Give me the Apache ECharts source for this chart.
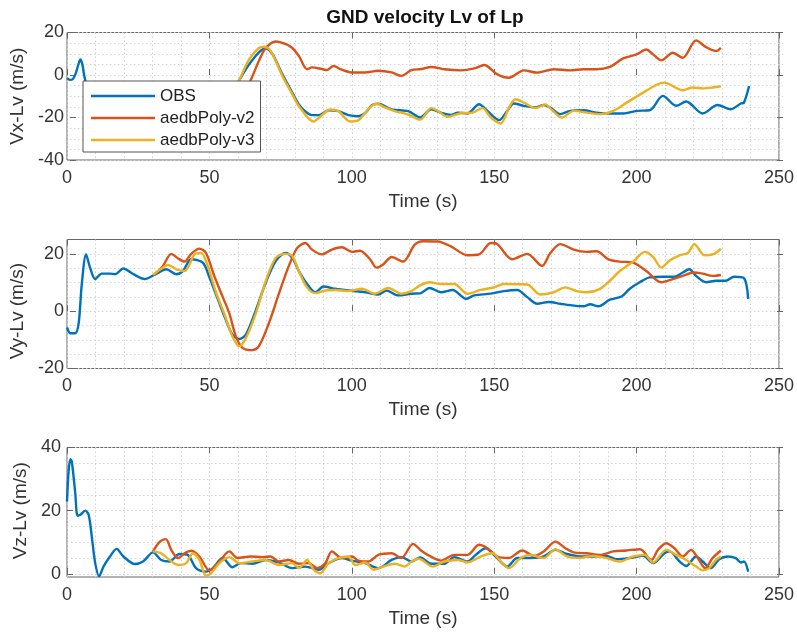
<!DOCTYPE html>
<html><head><meta charset="utf-8">
<script src="https://cdn.jsdelivr.net/npm/echarts@6/dist/echarts.min.js"></script>
<style>html,body{margin:0;padding:0;background:#fff}#c{width:797px;height:632px}</style>
</head><body><div id="c"></div>
<script>
// ---- data: [time (s), value (m/s)] ----
const seriesNames = ['OBS', 'aedbPoly-v2', 'aedbPoly-v3'];
const timeRange = [0, 250];
const timeTickStep = 50;

const vxObs = [[0,-1.5],[1,-2.3],[2,-2],[3,0.5],[4,5],[4.7,7.3],[5.4,5],[6,0],[6.5,-3],[7,-6],[8,-14],[10,-22],[15,-26],[20,-28],[25,-27],[30,-30],[35,-29],[40,-31],[45,-28],[50,-25],[55,-17],[58,-9],[60.5,-2.4],[64,5.1],[67.4,10.7],[69.8,12.5],[72.1,9.9],[75.6,0.4],[79.1,-8.3],[81.4,-13.8],[84,-17.5],[86,-18.9],[88.4,-18.9],[91.9,-16.6],[95.3,-17],[98.8,-18.9],[102.3,-19.4],[105,-17.5],[107,-14.2],[109.3,-13.5],[114,-16.2],[119.8,-17],[124,-20],[127.9,-16.1],[131.3,-17.7],[134.8,-18.75],[137.2,-17.7],[140.6,-18.1],[144.7,-13.75],[147.6,-16.9],[151.7,-21.25],[154.6,-16.9],[156.9,-13.4],[160.4,-14.5],[164.5,-15.3],[167.4,-14.1],[169.7,-15.3],[173.2,-18.4],[176.7,-16.9],[181.3,-16.6],[186,-17.7],[190.6,-18.1],[195.3,-18.1],[200,-16.9],[204.6,-16.6],[209.2,-9.8],[213.9,-14.5],[217.4,-12.5],[223.2,-18.1],[228.4,-14.1],[233.1,-16.1],[236.6,-13.4],[237.7,-13],[239.5,-5.2]];
const vxV2 = [[30,-20],[38,-25],[46,-27],[54,-24],[60,-14],[64.5,-2.4],[67.4,6.7],[69.8,12.7],[73.3,15.8],[76.7,14.6],[79.1,12.7],[81.4,9],[84.3,2.7],[86,3.6],[89.5,2.8],[91.3,2.3],[93.6,4.3],[95.9,2.8],[100,1.2],[104.6,1.2],[109.3,2],[114,1.2],[117.4,-0.4],[120.9,2.3],[124.4,2.8],[127.9,3.8],[132.5,2.7],[138.3,2.2],[143,3.1],[146.5,4.7],[151.1,0.3],[155.2,-1.3],[160.4,2.2],[165.1,1.1],[170.9,2.7],[176.7,2.2],[181.3,2.7],[186,2.7],[190.6,3.8],[195.3,7.8],[200,9.7],[203.4,12],[205.8,9.7],[208.7,6.9],[212.7,10.5],[216.2,8.1],[220.9,16.3],[224.4,13.1],[227.9,11.3],[229.6,12.8]];
const vxV3 = [[30,-20],[38,-26],[46,-29],[54,-22],[58,-10],[60.5,-2.4],[64,7.5],[67.4,12.7],[69.2,13.3],[71.5,11.4],[75.6,-0.4],[79.1,-9],[81.4,-14.6],[86.6,-21.9],[89.5,-18.9],[92.4,-16.2],[95.3,-17],[99.4,-21.9],[102.3,-21.3],[106.4,-15.2],[108.7,-13.5],[111.6,-15.2],[115.1,-17],[119.8,-18.6],[124,-21],[127.9,-15.6],[130.2,-16.9],[133.7,-19.7],[138.3,-18],[142.4,-17.7],[145.9,-15.6],[148.8,-20],[152.3,-22.8],[155.2,-15.3],[157.5,-11.4],[160.4,-13],[164.5,-15.6],[168,-13.8],[170.3,-16.5],[173.8,-20],[177.9,-16.9],[182.5,-17.7],[187.2,-18.4],[191.8,-16.9],[196.5,-13],[202.3,-8.3],[206.9,-4.7],[209.8,-3.6],[212.7,-5.2],[216.2,-7.2],[219.7,-5.9],[223.2,-6.3],[226.7,-5.9],[229.6,-5.3]];

const vyObs = [[0,-5.7],[1.2,-7.7],[2.9,-7.7],[4.1,-4.2],[5.2,9.5],[6.7,19.8],[8.1,15.2],[9.9,11.2],[12.2,13.1],[15.1,13.1],[16.9,12.9],[19.8,14.9],[23.3,12.9],[27.3,11.2],[30.8,12.7],[34.9,14.6],[38.4,12.9],[40.7,14],[43.6,18.1],[47.7,16.9],[50,11.8],[52.9,4.3],[55.8,-3.1],[58.1,-8.2],[60.5,-9.7],[62.8,-8.2],[66.3,0.3],[69.8,10],[73.3,17.5],[76.7,20.3],[79.1,18.6],[81.4,14],[84.3,9.5],[87.2,6.6],[90.1,8.6],[94.2,7.8],[98.8,7.2],[104.7,6.6],[109.3,5.8],[112.2,7.2],[116.3,5.5],[120.9,6.1],[124,6.2],[127.3,8.1],[131.3,6.6],[135.4,7.4],[140.1,4.3],[143,5.5],[148.8,6.1],[153.4,7],[158.1,7.4],[161.6,4.9],[165.1,2.6],[169.1,3.2],[173.2,2.6],[176.7,2.1],[181.3,1.7],[183.7,2.4],[186.6,1.7],[190.6,4],[194.7,5.1],[197.6,7.8],[201.1,10.1],[204.6,11.8],[209.2,12],[213.3,12],[216.2,13.5],[218.5,14.6],[220.9,12.3],[224.4,10.1],[227.9,10.6],[231.3,10.6],[234.2,12],[237.7,11.5],[239.2,4.3]];
const vyV2 = [[30.8,12.7],[33.7,15.8],[36.6,20],[39,18.4],[41.3,17.3],[43.6,20],[46.5,21.8],[48.8,20.3],[51.7,12.3],[54.7,4.9],[57,-0.8],[59.3,-8.8],[61.6,-12.8],[65.1,-13.6],[67.4,-12.2],[70.9,-4.2],[74.4,6.1],[77.9,15.8],[80.8,22],[83.7,23.8],[86,21.5],[89.5,19.8],[93,21.5],[96.5,22.3],[100,20.7],[102.9,21.1],[106.4,18.1],[108.7,15.2],[111,16.3],[114,18.9],[118,17.3],[122.1,23.2],[125,24.4],[130.2,24.3],[134.8,22.6],[140.6,19.5],[144.7,19.8],[148.8,23.8],[151.1,23.4],[156.3,18.1],[161.6,20],[166.8,15.8],[169.7,20.3],[173.2,23.4],[177.9,21.5],[182.5,20.7],[186,20.9],[190.1,18.1],[194.1,17.3],[198.8,16.9],[203.4,14],[208.7,10.1],[212.7,11.2],[216.2,12.3],[220.1,13.5],[223.2,13.1],[226.7,12.3],[229.6,12.6]];
const vyV3 = [[30.2,12.7],[33.7,15.2],[35.5,16.1],[38.4,14.6],[41.3,14],[44.8,19.8],[47.1,20.3],[49.4,15.8],[52.3,6.6],[55.2,-0.8],[58.1,-8.8],[60.5,-12.2],[62.8,-9.4],[66.3,-0.8],[69.8,10.6],[73.3,18.6],[76.7,20],[79.1,19.2],[81.4,14],[84.3,8.3],[87.2,6.3],[90.7,7.2],[94.2,7.4],[98.8,7],[103.5,7.8],[108.1,6.1],[112.8,8.1],[117.4,6.1],[120.9,7],[124,9],[127.3,10.1],[131.3,9.5],[136,9.5],[140.6,6.1],[145.3,7.4],[149.9,8.3],[153.4,9.5],[161.6,9.3],[166.2,5.8],[170.9,6.6],[174.9,8.3],[179,7],[182.5,6.6],[187.2,7.8],[190.6,10.6],[194.1,14],[198.8,17.3],[202.9,20.7],[205.8,18.9],[208.7,15.2],[211.6,17.7],[215.1,19.5],[218,20.3],[220.3,23.4],[223.8,19.5],[227.3,20],[229.6,21.8]];

const vzObs = [[0,22.9],[0.6,32.9],[1.2,36.3],[1.7,35.5],[2.9,25.5],[3.7,18.4],[4.7,18.7],[6.4,20],[7.6,18.7],[8.7,11.8],[9.9,3.4],[11.3,-0.8],[12.8,2.3],[15.1,5.5],[17.4,7.9],[19.8,5.5],[23.8,3.1],[26.7,3.9],[30.2,6.8],[33.1,4.4],[36,3.9],[39.5,6.3],[42.4,6],[45.3,1.8],[48.8,0.7],[51.2,1.8],[54.7,5],[58.1,2.1],[61,3.4],[65.1,3.2],[69.8,4.4],[74.4,3.6],[79.1,1.8],[83.7,2.3],[88.4,1.3],[91.9,3.4],[96.5,5],[100,4.2],[104.7,3.4],[109.3,1.8],[114,4.4],[117.4,5.3],[120.9,3.9],[124,5.2],[127.9,3.2],[132.5,3.2],[136,5.3],[140.6,3.9],[143.5,6],[147,8.1],[150.5,5.5],[154.6,2.3],[158.1,5],[162.7,5],[167.4,5.5],[171.5,7.6],[175.5,6.3],[180.2,5.5],[184.8,5.5],[189.5,5.7],[193,4.6],[197.6,5],[202.3,5.7],[205.8,3.4],[209.8,6.5],[211.6,7.1],[215.1,3.9],[217.4,2.5],[220.9,5.5],[223.2,3.9],[226.1,1.8],[229,4.6],[232,5.5],[234.8,5],[236.6,3.6],[237.7,3.9],[239.2,0.7]];
const vzV2 = [[30.2,7.1],[32.6,10.2],[34.7,11],[36.6,7.6],[39,5],[41.3,6.5],[43.6,7.3],[46.5,5.5],[50,1.1],[53.5,3.9],[57,7.1],[59.9,5],[64.5,5.5],[68.6,5.3],[71.5,5.5],[74.4,3.9],[77.9,4.4],[81.4,3.2],[84.9,3.4],[87.8,1.8],[90.7,3.4],[93,7.1],[96.5,5],[100,5.5],[102.3,4.2],[105.8,3.9],[109.3,6],[114,6.5],[117.4,5],[121.5,9.5],[124.4,7.3],[126.7,6],[131.3,4.2],[136,6],[140.6,6],[144.7,9.2],[147.6,8.1],[151.1,5.5],[155.2,5],[159.8,7.4],[163.9,5.7],[167.4,7.1],[171.5,10.2],[175,8.1],[177.9,6.8],[182.5,6.5],[187.2,6],[191.8,7.1],[196.5,7.4],[201.2,7.8],[205.2,4.4],[207.5,7.6],[210.4,9.7],[213.3,8.1],[216.2,5.5],[219.1,7.6],[221.5,5],[224.1,1.8],[226.7,5],[229.6,7.4]];
const vzV3 = [[30.2,7.1],[33.1,6.5],[36,4.4],[39,2.8],[41.9,3.4],[44.2,6.5],[46.5,4.4],[48.8,-0.6],[50.6,0.2],[53.5,3.4],[57,5.3],[60.5,3.4],[65.1,3.9],[69.8,4.4],[74.4,2.8],[79.1,3.4],[81.4,1.8],[84.3,4.4],[86.6,1.3],[88.9,0.2],[91.9,3.4],[95.3,5],[98.8,5.5],[101.2,2.8],[104.7,3.6],[107.6,1.3],[111.1,2.3],[115.1,3.2],[118.6,2.3],[120.9,3.9],[123.5,4.8],[128.4,2.3],[132.5,3.9],[137.2,4.4],[140.6,3.6],[145.3,5.5],[149.4,6.5],[152.3,3.9],[155.2,1.8],[159.3,5],[162.7,6],[167.4,5],[171.5,7.8],[175.5,5.5],[180.2,5],[184.8,5.7],[189.5,5],[194.1,3.9],[198.8,5.5],[202.8,6],[205.8,3.6],[210.4,7.6],[213.9,6],[217.4,4.4],[220.9,2.3],[223.2,1.1],[225.5,1.8],[227.9,4.4],[229.6,5.5]];

// panel axis settings: [data min, data max], labelled tick range, tick step
const yLabels = ['Vx-Lv (m/s)', 'Vy-Lv (m/s)', 'Vz-Lv (m/s)'];
const yDataRanges = [[-40, 20], [-20, 25], [-1, 40]];
const yTickRanges = [[-40, 20], [-20, 20], [0, 40]];
const yTickStep = 20;
const panelData = [[vxObs, vxV2, vxV3], [vyObs, vyV2, vyV3], [vzObs, vzV2, vzV3]];

// ---- layout / style ----
const FONT = '"Liberation Sans", Arial, Helvetica, sans-serif';
const COLORS = ['#0072BD', '#D95319', '#EDB120'];
const FRAME = '#666666';
const TEXT = '#333333';
const panelBoxes = [{top: 32.5, height: 127.5}, {top: 239.5, height: 129}, {top: 447.5, height: 129.5}];
const L = 67, R = 14;
const gridLine = {color: '#d2d2d2', width: 1, type: [1.5, 2.5]};
const tickStyle = {inside: true, length: 6, lineStyle: {color: FRAME, width: 1}};

const grid = [], xAxis = [], yAxis = [], series = [];
panelBoxes.forEach((b, i) => {
  const [dMin, dMax] = yDataRanges[i];
  const [gMin, gMax] = yTickRanges[i];
  const span = dMax - dMin;
  grid.push({left: L, right: R, top: b.top, height: b.height, show: true,
    borderColor: FRAME, borderWidth: 1, backgroundColor: 'transparent'});
  grid.push({left: L, right: R, top: b.top + b.height * (dMax - gMax) / span,
    height: b.height * (gMax - gMin) / span});
  const g0 = 2 * i, g1 = 2 * i + 1;
  xAxis.push({type: 'value', gridIndex: g0, min: timeRange[0], max: timeRange[1], interval: timeTickStep,
    position: 'bottom', axisLine: {show: false}, axisTick: tickStyle,
    axisLabel: {fontSize: 18, color: TEXT, margin: 9, fontFamily: FONT},
    splitLine: {show: true, lineStyle: gridLine},
    minorTick: {show: false, splitNumber: 5}, minorSplitLine: {show: true, lineStyle: gridLine},
    name: 'Time (s)', nameLocation: 'middle', nameGap: 32,
    nameTextStyle: {fontSize: 19, color: TEXT, fontFamily: FONT}});
  xAxis.push({type: 'value', gridIndex: g0, min: timeRange[0], max: timeRange[1], interval: timeTickStep,
    position: 'top', axisLine: {show: false}, axisTick: tickStyle, axisLabel: {show: false},
    splitLine: {show: false}});
  xAxis.push({type: 'value', gridIndex: g1, min: timeRange[0], max: timeRange[1], show: false});
  yAxis.push({type: 'value', gridIndex: g0, min: dMin, max: dMax, show: false});
  yAxis.push({type: 'value', gridIndex: g1, min: gMin, max: gMax, interval: yTickStep, position: 'left',
    axisLine: {show: false}, axisTick: tickStyle,
    axisLabel: {fontSize: 18, color: TEXT, margin: 6, fontFamily: FONT},
    splitLine: {show: true, lineStyle: gridLine},
    minorTick: {show: false, splitNumber: 4}, minorSplitLine: {show: true, lineStyle: gridLine},
    name: yLabels[i], nameLocation: 'middle', nameGap: 33, nameRotate: 90,
    nameTextStyle: {fontSize: 19, color: TEXT, fontFamily: FONT}});
  yAxis.push({type: 'value', gridIndex: g1, min: gMin, max: gMax, interval: yTickStep, position: 'right',
    axisLine: {show: false}, axisTick: tickStyle, axisLabel: {show: false}, splitLine: {show: false}});
  panelData[i].forEach((d, k) => series.push({
    type: 'line', name: seriesNames[k], xAxisIndex: 3 * i, yAxisIndex: 3 * i, data: d,
    showSymbol: false, symbol: 'none', smooth: 0.3, z: 3,
    lineStyle: {width: 2.4, color: COLORS[k]}, itemStyle: {color: COLORS[k]}
  }));
});

const chart = echarts.init(document.getElementById('c'), null, {renderer: 'canvas'});
chart.setOption({
  animation: false,
  backgroundColor: '#ffffff',
  grid, xAxis, yAxis, series,
  legend: {orient: 'vertical', left: 83, top: 81, data: seriesNames, icon: 'rect',
    itemWidth: 64, itemHeight: 2.5, itemGap: 2, padding: [5, 6, 2, 8],
    backgroundColor: '#ffffff', borderColor: '#555555', borderWidth: 1, borderRadius: 0,
    selectedMode: false, z: 10,
    textStyle: {fontSize: 17, color: '#222222', fontFamily: FONT, lineHeight: 20}},
  graphic: [{type: 'text', x: 425, y: 18, z: 10,
    style: {text: 'GND velocity Lv of Lp', fill: '#111111', font: 'bold 19px ' + FONT,
      align: 'center', verticalAlign: 'middle'}}]
});
</script></body></html>
